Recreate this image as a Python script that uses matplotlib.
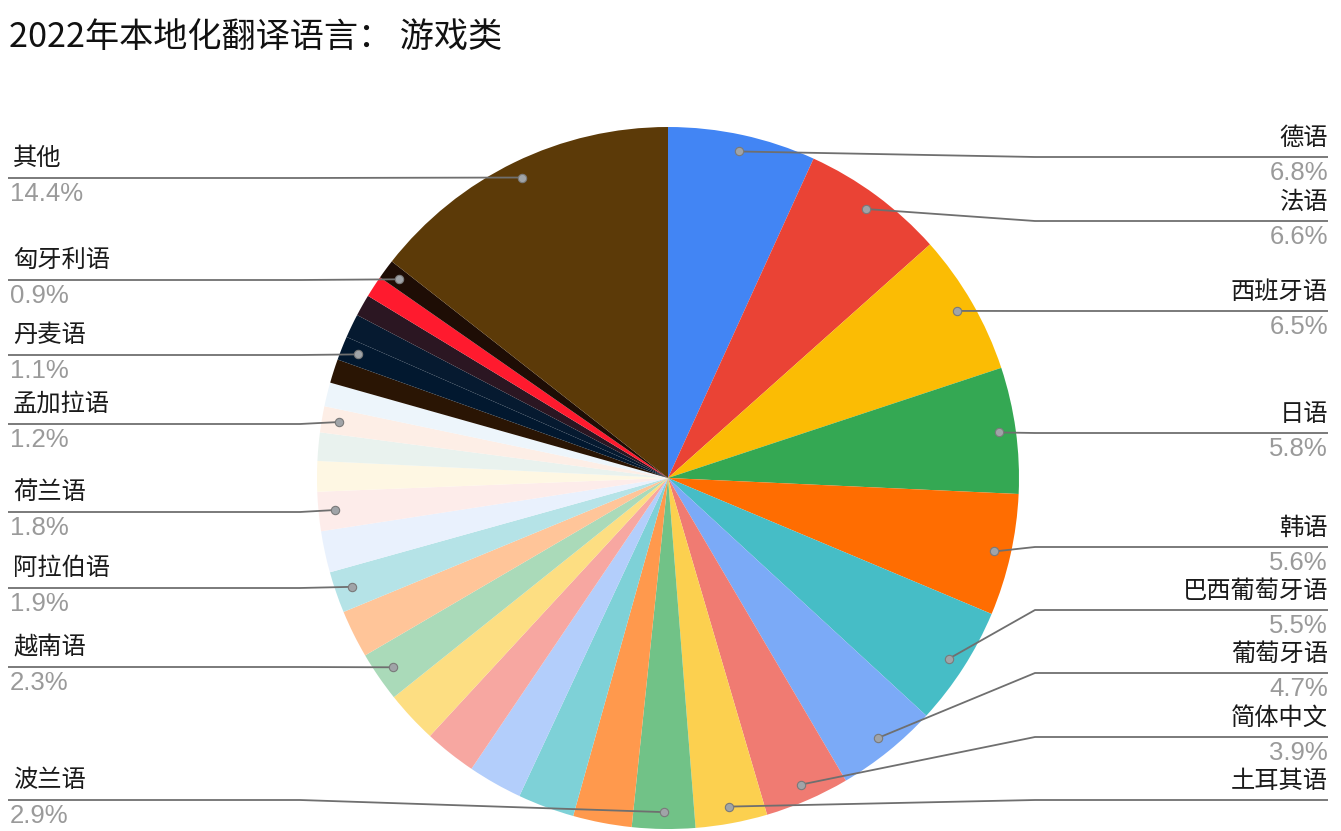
import matplotlib
matplotlib.use("Agg")
import matplotlib.pyplot as plt
import numpy as np

plt.rcParams["font.family"] = ["Noto Sans CJK SC", "DejaVu Sans"]

W, H = 1341, 831

# slices, clockwise from 12 o'clock ("" = slice without a label)
languages = ["德语", "法语", "西班牙语", "日语", "韩语", "巴西葡萄牙语", "葡萄牙语",
             "简体中文", "土耳其语", "波兰语", "", "", "", "", "", "越南语", "",
             "阿拉伯语", "", "荷兰语", "", "", "孟加拉语", "", "", "丹麦语", "",
             "", "", "匈牙利语", "其他"]
shares = [6.8, 6.6, 6.5, 5.8, 5.6, 5.5, 4.7, 3.9, 3.3, 2.9, 2.7, 2.6, 2.5, 2.4,
          2.4, 2.3, 2.2, 1.9, 1.9, 1.8, 1.4, 1.3, 1.2, 1.1, 1.1, 1.1, 1.1, 1.0,
          1.0, 0.9, 14.4]
colors = ["#4285F4", "#EA4335", "#FBBC04", "#34A853", "#FF6D01", "#46BDC6",
          "#7BAAF7", "#F07B72", "#FCD04F", "#71C287", "#FF994D", "#7ED1D7",
          "#B3CEFB", "#F7A7A1", "#FDDE82", "#AADAB9", "#FFC599", "#B5E3E7",
          "#E9F1FD", "#FDECEA", "#FEF7E3", "#E9F2EE", "#FDEEE6", "#EDF5FB",
          "#2A1504", "#02182F", "#061A30", "#2B1622", "#FF1A2E", "#1E0D05",
          "#5C3A08"]

# label placement: side and y of the leader line (image pixels, from top)
label_pos = {
    "德语": ("right", 157), "法语": ("right", 221), "西班牙语": ("right", 311),
    "日语": ("right", 433), "韩语": ("right", 547), "巴西葡萄牙语": ("right", 610),
    "葡萄牙语": ("right", 673), "简体中文": ("right", 737), "土耳其语": ("right", 800),
    "其他": ("left", 178), "匈牙利语": ("left", 280), "丹麦语": ("left", 355),
    "孟加拉语": ("left", 424), "荷兰语": ("left", 512), "阿拉伯语": ("left", 588),
    "越南语": ("left", 667), "波兰语": ("left", 800),
}

cx, cy, R = 668, H - 478, 351

fig = plt.figure(figsize=(W / 100, H / 100), dpi=100)
ax = fig.add_axes([0, 0, 1, 1])

wedges, _ = ax.pie(shares, colors=colors, startangle=90, counterclock=False,
                   radius=R, center=(cx, cy),
                   wedgeprops=dict(linewidth=0))

ax.set_xlim(0, W)
ax.set_ylim(0, H)
ax.set_aspect("equal")
ax.axis("off")

line_kw = dict(color="#6f6f6f", linewidth=1.3, solid_capstyle="butt", zorder=3)

for w, name, val in zip(wedges, languages, shares):
    if not name:
        continue
    side, ly = label_pos[name]
    ly = H - ly
    mid = np.deg2rad((w.theta1 + w.theta2) / 2)
    dx = cx + 0.952 * R * np.cos(mid)
    dy = cy + 0.952 * R * np.sin(mid)

    if side == "right":
        ex = max(dx, 1035)
        ax.plot([dx, ex, 1328], [dy, ly, ly], **line_kw)
        ax.text(1328, ly + 19, name, ha="right", va="center", fontsize=17.5,
                color="#1a1a1a")
        if name != "土耳其语":
            ax.text(1328, ly - 16, f"{val:.1f}%", ha="right", va="center",
                    fontsize=18.5, color="#9a9a9a", family="Liberation Sans")
    else:
        ex = min(dx, 300)
        ax.plot([dx, ex, 8], [dy, ly, ly], **line_kw)
        ax.text(13, ly + 20, name, ha="left", va="center", fontsize=17.5,
                color="#1a1a1a")
        ax.text(10, ly - 16, f"{val:.1f}%", ha="left", va="center",
                fontsize=18.5, color="#9a9a9a", family="Liberation Sans")

    ax.plot(dx, dy, "o", markersize=6, markerfacecolor="#a0a4a8",
            markeredgecolor="#7a7a7a", markeredgewidth=0.8, zorder=4)

fig.text(9 / W, 1 - 37 / H, "2022年本地化翻译语言： 游戏类", ha="left",
         va="center", fontsize=24.6, color="#111111")

fig.savefig("out.png", dpi=100)
